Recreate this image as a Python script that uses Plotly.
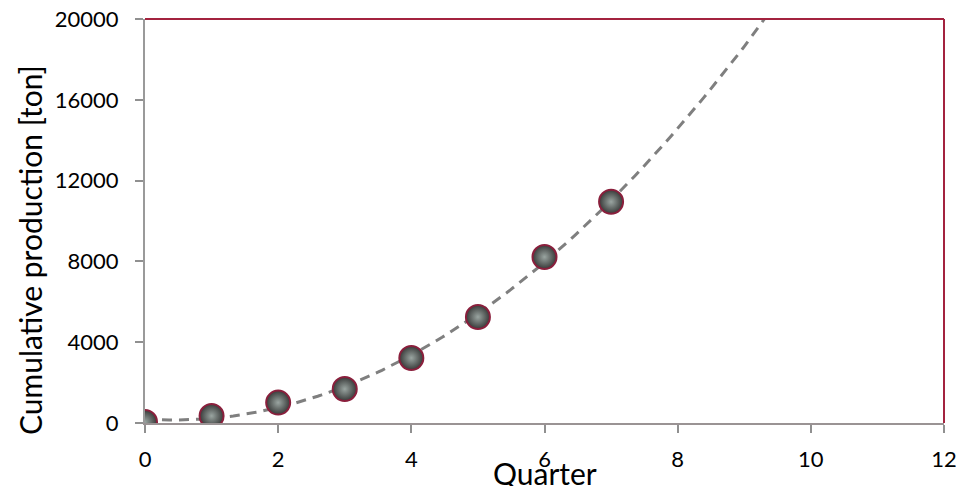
import numpy as np
import plotly.graph_objects as go

quarters = [0, 1, 2, 3, 4, 5, 6, 7]
production = [50, 350, 1010, 1680, 3220, 5250, 8220, 10950]
x_ticks = [0, 2, 4, 6, 8, 10, 12]
y_ticks = [0, 4000, 8000, 12000, 16000, 20000]
y_tick_text = [str(v) for v in y_ticks]

coef = np.polyfit(quarters, production, 2)
xt = np.linspace(0, 12, 200)
yt = np.polyval(coef, xt)

fig = go.Figure()
fig.add_trace(go.Scatter(x=xt, y=yt, mode="lines",
                         line=dict(color="#7f7f7f", width=3, dash="10px,7px"),
                         hoverinfo="skip", showlegend=False))
fig.add_trace(go.Scatter(x=quarters, y=production, mode="markers",
                         marker=dict(size=24, color="#383a39",
                                     gradient=dict(type="radial", color="#9aa5a1"),
                                     line=dict(color="#8a1f3c", width=2)),
                         showlegend=False))

font = "Lato, Liberation Sans, sans-serif"
fig.update_layout(
    width=956, height=486,
    margin=dict(l=145, r=12, t=19, b=63),
    paper_bgcolor="white", plot_bgcolor="white",
    font=dict(family=font, size=22, color="#000000"),
    xaxis=dict(range=[0, 12], tickvals=x_ticks, showgrid=False, zeroline=False,
               showline=True, linecolor="#9a9394", linewidth=2, automargin=False,
               ticks="outside", ticklen=8, tickcolor="#909090", tickwidth=2,
               tickfont=dict(size=22), ticklabelstandoff=8, ticklabeloverflow="allow"),
    yaxis=dict(range=[0, 20000], tickvals=y_ticks, ticktext=y_tick_text,
               showgrid=False, zeroline=False, automargin=False,
               showline=True, linecolor="#9a9a9a", linewidth=2,
               ticks="outside", ticklen=8, tickcolor="#909090", tickwidth=2,
               tickfont=dict(size=22), ticklabelstandoff=12, ticklabeloverflow="allow"),
)
fig.add_shape(type="line", xref="paper", yref="paper", x0=0, x1=1, y0=1, y1=1,
              line=dict(color="#a3233f", width=2))
fig.add_shape(type="line", xref="paper", yref="paper", x0=1, x1=1, y0=0, y1=1,
              line=dict(color="#a3233f", width=2))
fig.add_annotation(text="Quarter", xref="paper", yref="paper", x=0.5, y=-50/404,
                   showarrow=False, font=dict(size=30), xanchor="center", yanchor="middle")
fig.add_annotation(text="Cumulative production [ton]", xref="paper", yref="paper",
                   x=-(145-30)/799, y=(423-250)/404, textangle=-90, showarrow=False,
                   font=dict(size=30), xanchor="center", yanchor="middle")

fig.write_html("out.html", config={"displayModeBar": False},
               post_script="document.body.style.margin='0';")
